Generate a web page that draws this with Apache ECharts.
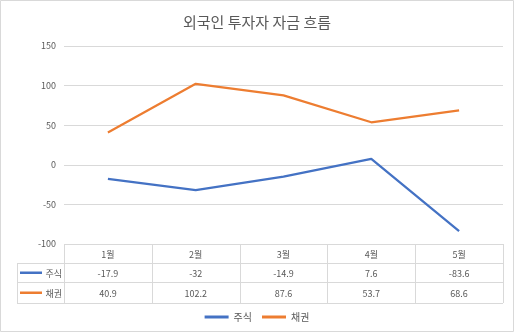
<!DOCTYPE html>
<html><head><meta charset="utf-8">
<script src="https://cdn.jsdelivr.net/npm/echarts@6/dist/echarts.min.js"></script>
<style>html,body{margin:0;padding:0;background:#fff}#c{width:514px;height:332px}</style>
</head><body><div id="c"></div>
<script>
const categories = ['1월','2월','3월','4월','5월'];
const stockName = '주식';
const bondName = '채권';
const stockValues = [-17.9, -32, -14.9, 7.6, -83.6];
const bondValues = [40.9, 102.2, 87.6, 53.7, 68.6];
const titleText = '외국인 투자자 자금 흐름';

const FONT = '"Noto Sans CJK KR", "Noto Sans", sans-serif';
const TXT = '#595959';
const GRID = '#d9d9d9';
const BLUE = '#4472C4';
const ORANGE = '#ED7D31';

const chart = echarts.init(document.getElementById('c'));
const option = {
  animation: false,
  backgroundColor: '#fff',
  textStyle: { fontFamily: FONT },
  title: { text: titleText, left: 'center', top: 10,
    textStyle: { fontFamily: FONT, fontSize: 15, fontWeight: 'normal', color: TXT } },
  grid: { left: 64, right: 11, top: 46, bottom: 88 },
  xAxis: { type: 'category', data: categories, boundaryGap: true,
    axisLine: { show: false }, axisTick: { show: false }, axisLabel: { show: false } },
  yAxis: { type: 'value', min: -100, max: 150, interval: 50,
    axisLine: { show: false }, axisTick: { show: false },
    axisLabel: { color: TXT, fontSize: 9, fontFamily: FONT, margin: 8 },
    splitLine: { lineStyle: { color: GRID, width: 1 } } },
  legend: { bottom: 5, left: 'center', itemWidth: 24, itemHeight: 3, itemGap: 10, icon: 'rect',
    textStyle: { color: TXT, fontSize: 10, fontFamily: FONT },
    data: [stockName, bondName] },
  series: [
    { name: stockName, type: 'line', data: stockValues, symbol: 'none',
      lineStyle: { color: BLUE, width: 2.25 }, itemStyle: { color: BLUE } },
    { name: bondName, type: 'line', data: bondValues, symbol: 'none',
      lineStyle: { color: ORANGE, width: 2.25 }, itemStyle: { color: ORANGE } }
  ]
};
chart.setOption(option);

// Build data table from the arrays using the chart's own scales
const yTop = chart.convertToPixel({ yAxisIndex: 0 }, -100);
const gridRect = chart.getModel().getComponent('grid').coordinateSystem.getRect();
const x0 = gridRect.x, x1 = gridRect.x + gridRect.width;
const band = gridRect.width / categories.length;
const rowH = [19, 19, 21];
const r0 = yTop, r1 = r0 + rowH[0], r2 = r1 + rowH[1], r3 = r2 + rowH[2];
const keyLeft = 17;
const g = [];
const line = (xa, ya, xb, yb) => g.push({ type: 'line', silent: true,
  shape: { x1: xa, y1: ya, x2: xb, y2: yb }, style: { stroke: GRID, lineWidth: 1 } });
const text = (t, x, y, align) => g.push({ type: 'text', silent: true, x: x, y: y,
  style: { text: t, fill: TXT, fontSize: 9, fontFamily: FONT, align: align || 'center', verticalAlign: 'middle' } });

line(x0, r0 + 0.5, x1, r0 + 0.5);
line(keyLeft, r1 + 0.5, x1, r1 + 0.5);
line(keyLeft, r2 + 0.5, x1, r2 + 0.5);
line(keyLeft, r3 + 0.5, x1, r3 + 0.5);
line(keyLeft + 0.5, r1, keyLeft + 0.5, r3);
for (let i = 0; i <= categories.length; i++) {
  const xx = Math.round(x0 + band * i) + 0.5;
  line(xx, r0, xx, r3);
}
categories.forEach((c, i) => {
  const cx = chart.convertToPixel({ xAxisIndex: 0 }, c);
  text(c, cx, (r0 + r1) / 2 + 1);
  text(String(stockValues[i]), cx, (r1 + r2) / 2 + 1);
  text(String(bondValues[i]), cx, (r2 + r3) / 2 + 1);
});
const rows = [[stockName, BLUE, (r1 + r2) / 2], [bondName, ORANGE, (r2 + r3) / 2]];
rows.forEach(([n, col, cy]) => {
  g.push({ type: 'rect', silent: true, shape: { x: 20, y: cy - 1, width: 22, height: 2.5 }, style: { fill: col } });
  text(n, 62, cy + 1, 'right');
});
g.push({ type: 'rect', silent: true, shape: { x: 0.5, y: 0.5, width: 513, height: 331 },
  style: { fill: 'none', stroke: GRID, lineWidth: 1 }, z: -1 });
chart.setOption({ graphic: g });
</script></body></html>
